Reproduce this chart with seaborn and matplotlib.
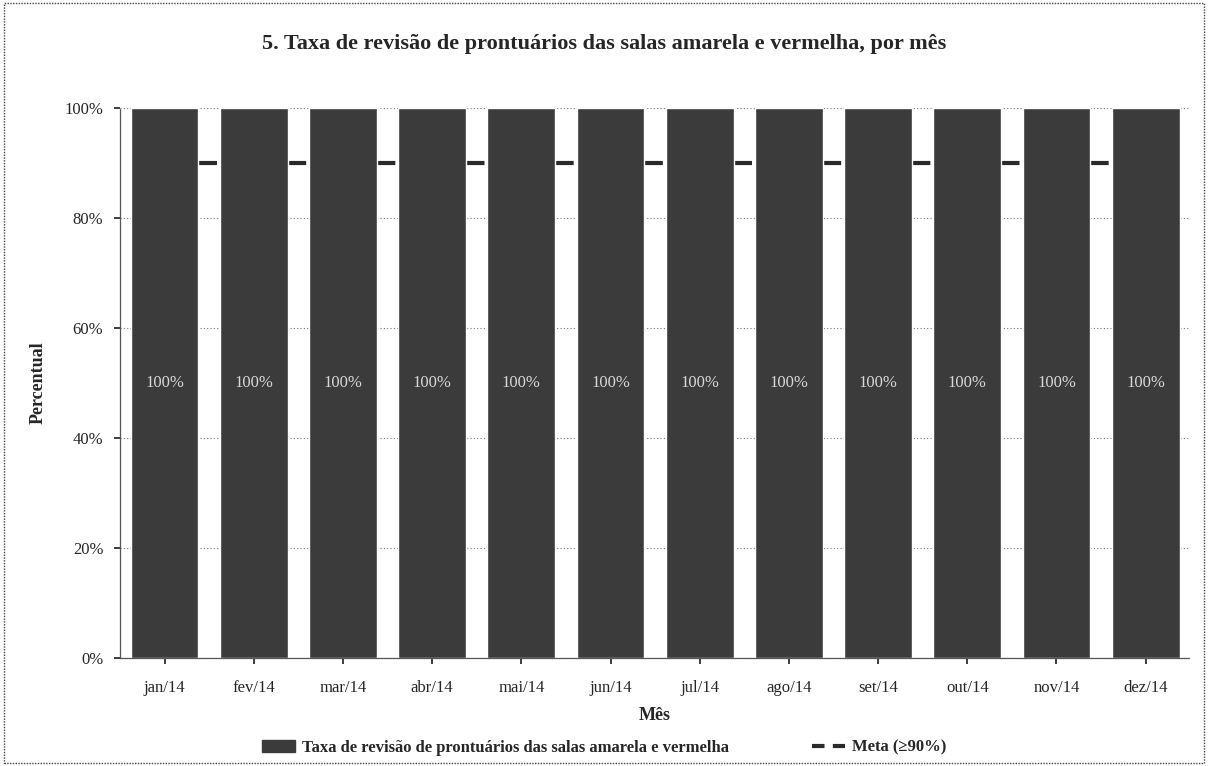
import matplotlib
matplotlib.use("Agg")
import matplotlib.pyplot as plt
import seaborn as sns
import pandas as pd
from matplotlib.lines import Line2D
from matplotlib.patches import Patch, Rectangle

meses = ["jan/14", "fev/14", "mar/14", "abr/14", "mai/14", "jun/14",
         "jul/14", "ago/14", "set/14", "out/14", "nov/14", "dez/14"]
taxa = [100, 100, 100, 100, 100, 100, 100, 100, 100, 100, 100, 100]
meta = [90, 90, 90, 90, 90, 90, 90, 90, 90, 90, 90, 90]
rotulos = ["100%"] * 12

sns.set_theme(style="white")
plt.rcParams['font.family'] = ['Liberation Serif', 'DejaVu Serif']

df = pd.DataFrame({"Mês": meses, "Taxa": taxa, "Meta": meta})

fig = plt.figure(figsize=(12.08, 7.66), dpi=100)
ax = fig.add_axes([0.0993, 0.141, 0.886, 0.718])

bar_color = "#3b3b3b"
# dash pattern aligned with category spacing (one dash in each gap)
lw = 3.0
px_per_unit = lw * 100 / 72
step_px = 1070 / 12
dash_on = 18 / px_per_unit
period = step_px / px_per_unit
start = 34 / px_per_unit
sns.lineplot(data=df, x="Mês", y="Meta", ax=ax, color="#2a2a2a", lw=lw,
             linestyle=(period - start, (dash_on, period - dash_on)),
             zorder=1, sort=False)
sns.barplot(data=df, x="Mês", y="Taxa", ax=ax, color=bar_color, width=0.76,
            saturation=1, zorder=2)

for i, (v, t) in enumerate(zip(taxa, rotulos)):
    ax.text(i, v / 2, t, ha="center", va="center", color="#d8d8d8",
            fontsize=12, zorder=3)

ax.set_ylim(0, 100)
ax.set_xlim(-0.5, 11.5)
ax.set_yticks([0, 20, 40, 60, 80, 100])
ax.set_yticklabels(["0%", "20%", "40%", "60%", "80%", "100%"], fontsize=12)
ax.tick_params(axis="x", labelsize=12, length=4, direction="out", bottom=True, pad=12)
ax.tick_params(axis="y", length=4, direction="out", left=True, pad=8)
ax.yaxis.grid(True, linestyle=(0, (1, 2)), color="#777777", lw=0.8, zorder=0)
ax.set_axisbelow(True)
for s in ["top", "right"]:
    ax.spines[s].set_visible(False)
for s in ["left", "bottom"]:
    ax.spines[s].set_color("#555555")
    ax.spines[s].set_linestyle((0, (1, 1)))
    ax.spines[s].set_linewidth(0.9)

ax.set_xlabel("Mês", fontsize=13, fontweight="bold", labelpad=8)
ax.set_ylabel("Percentual", fontsize=13, fontweight="bold", labelpad=13)

fig.suptitle("5. Taxa de revisão de prontuários das salas amarela e vermelha, por mês",
             x=0.5, y=0.955, fontsize=16, fontweight="bold")

handles = [Patch(facecolor=bar_color, edgecolor=bar_color),
           Line2D([0], [0], color="#2a2a2a", lw=3, linestyle=(0, (3, 2)))]
labels = ["Taxa de revisão de prontuários das salas amarela e vermelha",
          "Meta (≥90%)"]
leg = fig.legend(handles, labels, loc="center", bbox_to_anchor=(0.5, 0.024),
                 ncol=2, frameon=False, fontsize=12, columnspacing=5,
                 handlelength=2, handletextpad=0.4)
for t in leg.get_texts():
    t.set_fontweight("bold")

fig.patches.append(Rectangle((0.003, 0.004), 0.994, 0.992, transform=fig.transFigure,
                             fill=False, edgecolor="#444444", lw=1,
                             linestyle=(0, (1, 1))))

fig.savefig("out.png", dpi=100)
